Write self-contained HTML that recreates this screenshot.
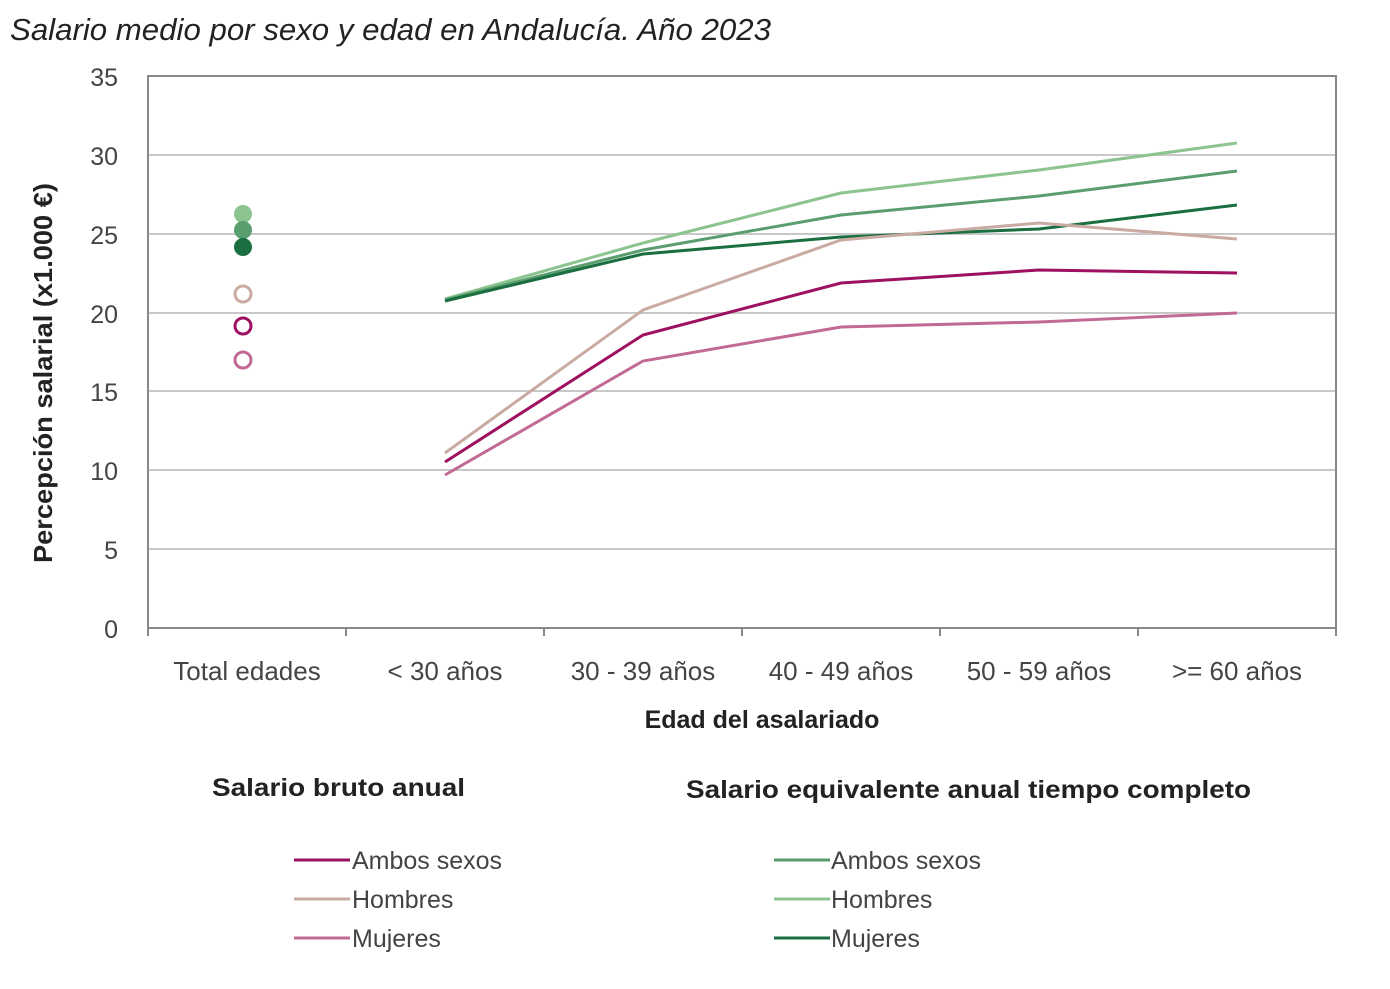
<!DOCTYPE html>
<html><head><meta charset="utf-8"><style>body{margin:0;background:#fff}</style></head><body>
<svg width="1390" height="984" xmlns="http://www.w3.org/2000/svg" font-family="Liberation Sans, sans-serif">
<rect width="1390" height="984" fill="#fff"/>
<text x="10" y="40" font-size="31" font-style="italic" fill="#222" textLength="761" lengthAdjust="spacingAndGlyphs">Salario medio por sexo y edad en Andalucía. Año 2023</text>
<g stroke="#c8c8c8" stroke-width="2">
<line x1="148" y1="155" x2="1336" y2="155"/><line x1="148" y1="234" x2="1336" y2="234"/>
<line x1="148" y1="313" x2="1336" y2="313"/><line x1="148" y1="391" x2="1336" y2="391"/>
<line x1="148" y1="470" x2="1336" y2="470"/><line x1="148" y1="549" x2="1336" y2="549"/>
</g>
<g stroke="#888" stroke-width="2" fill="none">
<rect x="148" y="76" width="1188" height="552"/>
<line x1="148" y1="628" x2="148" y2="636"/><line x1="346" y1="628" x2="346" y2="636"/>
<line x1="544" y1="628" x2="544" y2="636"/><line x1="742" y1="628" x2="742" y2="636"/>
<line x1="940" y1="628" x2="940" y2="636"/><line x1="1138" y1="628" x2="1138" y2="636"/>
<line x1="1336" y1="628" x2="1336" y2="636"/>
</g>
<g font-size="25" fill="#444" text-anchor="end">
<text x="118" y="86">35</text><text x="118" y="165">30</text><text x="118" y="244">25</text>
<text x="118" y="323">20</text><text x="118" y="401">15</text><text x="118" y="480">10</text>
<text x="118" y="559">5</text><text x="118" y="638">0</text>
</g>
<g font-size="26" fill="#444" text-anchor="middle">
<text x="247" y="680">Total edades</text><text x="445" y="680">&lt; 30 años</text>
<text x="643" y="680">30 - 39 años</text><text x="841" y="680">40 - 49 años</text>
<text x="1039" y="680">50 - 59 años</text><text x="1237" y="680">&gt;= 60 años</text>
</g>
<text x="762" y="728" font-size="25" font-weight="bold" fill="#222" text-anchor="middle">Edad del asalariado</text>
<text transform="translate(52,373) rotate(-90)" font-size="26" font-weight="bold" fill="#222" text-anchor="middle" textLength="380" lengthAdjust="spacingAndGlyphs">Percepción salarial (x1.000 €)</text>
<g fill="none" stroke-width="3">
<polyline stroke="#8cc490" points="445,299 643,243 841,193 1039,170 1237,143"/>
<polyline stroke="#5a9e70" points="445,300 643,250 841,215 1039,196 1237,171"/>
<polyline stroke="#1a6e40" points="445,301 643,254 841,237 1039,229 1237,205"/>
<polyline stroke="#c9aba3" points="445,453 643,310 841,240 1039,223 1237,239"/>
<polyline stroke="#9e1060" points="445,462 643,335 841,283 1039,270 1237,273"/>
<polyline stroke="#c26a95" points="445,475 643,361 841,327 1039,322 1237,313"/>
</g>
<circle cx="243" cy="214" r="9" fill="#8cc490"/>
<circle cx="243" cy="230" r="9" fill="#5a9e70"/>
<circle cx="243" cy="247" r="9" fill="#1a6e40"/>
<g fill="none" stroke-width="3">
<circle cx="243" cy="294" r="8" stroke="#c9aba3"/>
<circle cx="243" cy="326" r="8" stroke="#9e1060"/>
<circle cx="243" cy="360" r="8" stroke="#c26a95"/>
</g>
<g font-size="25" font-weight="bold" fill="#222">
<text x="212" y="796" textLength="253" lengthAdjust="spacingAndGlyphs">Salario bruto anual</text>
<text x="686" y="798" textLength="565" lengthAdjust="spacingAndGlyphs">Salario equivalente anual tiempo completo</text>
</g>
<g stroke-width="3">
<line x1="294" y1="860" x2="350" y2="860" stroke="#9e1060"/>
<line x1="294" y1="899" x2="350" y2="899" stroke="#c9aba3"/>
<line x1="294" y1="938" x2="350" y2="938" stroke="#c26a95"/>
<line x1="774" y1="860" x2="830" y2="860" stroke="#5a9e70"/>
<line x1="774" y1="899" x2="830" y2="899" stroke="#8cc490"/>
<line x1="774" y1="938" x2="830" y2="938" stroke="#1a6e40"/>
</g>
<g font-size="25" fill="#444">
<text x="352" y="869">Ambos sexos</text><text x="352" y="908">Hombres</text><text x="352" y="947">Mujeres</text>
<text x="831" y="869">Ambos sexos</text><text x="831" y="908">Hombres</text><text x="831" y="947">Mujeres</text>
</g>
</svg>
</body></html>
